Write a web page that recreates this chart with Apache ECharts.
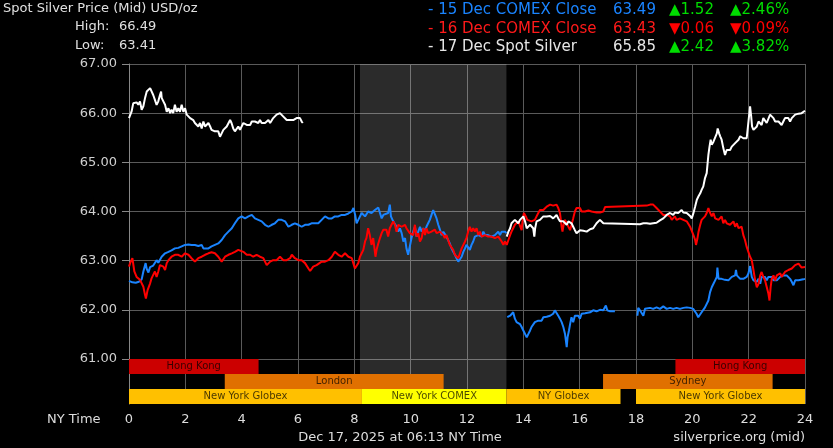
<!DOCTYPE html>
<html><head><meta charset="utf-8">
<script src="https://cdn.jsdelivr.net/npm/echarts@6/dist/echarts.min.js"></script>
<style>html,body{margin:0;padding:0;background:#000;}#c{width:833px;height:448px;}</style>
</head><body><div id="c"></div>
<script>
// ---- data ----
const blue15 = [
[0.00,62.59],[0.12,62.56],[0.24,62.55],[0.35,62.57],[0.45,62.62],[0.51,62.78],[0.59,62.95],[0.63,62.83],[0.69,62.76],[0.75,62.87],[0.86,62.90],[0.98,63.01],[1.04,62.96],[1.16,63.08],[1.28,63.15],[1.40,63.18],[1.51,63.21],[1.63,63.25],[1.75,63.26],[1.87,63.29],[1.99,63.32],[2.11,63.33],[2.22,63.32],[2.34,63.32],[2.46,63.30],[2.58,63.32],[2.64,63.25],[2.70,63.22],[2.82,63.25],[2.93,63.29],[3.05,63.32],[3.17,63.35],[3.29,63.42],[3.41,63.52],[3.53,63.59],[3.65,63.66],[3.76,63.76],[3.88,63.86],[4.00,63.90],[4.12,63.86],[4.24,63.90],[4.36,63.93],[4.47,63.86],[4.59,63.83],[4.71,63.80],[4.83,63.73],[4.95,63.69],[5.07,63.73],[5.18,63.76],[5.30,63.83],[5.42,63.83],[5.54,63.80],[5.66,63.69],[5.78,63.73],[5.89,63.76],[6.01,63.73],[6.13,63.69],[6.25,63.73],[6.37,63.73],[6.48,63.76],[6.60,63.76],[6.72,63.76],[6.84,63.83],[6.96,63.90],[7.08,63.86],[7.20,63.86],[7.31,63.90],[7.43,63.90],[7.55,63.93],[7.67,63.93],[7.79,63.96],[7.91,64.00],[7.97,64.07],[8.03,63.93],[8.08,63.76],[8.14,63.83],
[8.20,63.86],[8.26,63.97],[8.38,63.90],[8.49,64.00],[8.61,63.97],[8.73,64.03],[8.85,64.08],[8.91,63.97],[8.97,63.86],[9.03,63.93],[9.09,63.90],[9.20,63.97],[9.26,64.14],[9.30,63.90],[9.38,63.80],[9.44,63.83],[9.50,63.69],[9.56,63.59],[9.62,63.66],[9.68,63.56],[9.74,63.39],[9.80,63.46],[9.85,63.25],[9.91,63.12],[9.97,63.29],[10.03,63.46],[10.09,63.59],[10.15,63.69],[10.21,63.49],[10.27,63.59],[10.33,63.69],[10.39,63.59],[10.45,63.66],[10.51,63.59],[10.56,63.69],[10.62,63.76],[10.68,63.83],[10.74,63.93],[10.80,64.03],[10.86,64.00],[10.92,63.86],[10.98,63.73],[11.04,63.63],[11.10,63.52],[11.16,63.59],[11.21,63.56],[11.27,63.49],[11.33,63.42],[11.39,63.35],[11.45,63.25],[11.51,63.18],[11.57,63.12],[11.63,63.05],[11.69,62.98],[11.75,62.95],[11.81,63.08],[11.87,63.18],[11.93,63.25],[11.98,63.32],[12.04,63.29],[12.10,63.22],[12.16,63.32],[12.22,63.39],[12.28,63.49],[12.34,63.46],[12.40,63.52],[12.46,63.56],[12.52,63.49],[12.58,63.59],[12.64,63.52],[12.69,63.56],[12.75,63.52],[12.87,63.49],[12.99,63.52],[13.05,63.56],[13.11,63.59],[13.17,63.52],[13.23,63.59],[13.29,63.56],[13.35,63.59],[13.40,63.56],
[13.41,null],
[13.43,61.85],[13.53,61.88],[13.58,61.92],[13.64,61.95],[13.70,61.82],[13.76,61.75],[13.82,61.78],[13.88,61.71],[13.94,61.65],[14.00,61.58],[14.06,61.51],[14.12,61.44],[14.18,61.51],[14.24,61.58],[14.29,61.65],[14.35,61.68],[14.41,61.75],[14.47,61.71],[14.53,61.78],[14.59,61.82],[14.65,61.78],[14.71,61.85],[14.77,61.82],[14.83,61.86],[14.89,61.85],[14.95,61.88],[15.00,61.86],[15.06,61.92],[15.12,61.99],[15.18,61.95],[15.24,61.88],[15.30,61.82],[15.36,61.75],[15.42,61.65],[15.48,61.51],[15.54,61.24],[15.57,61.44],[15.62,61.58],[15.66,61.71],[15.71,61.85],[15.77,61.75],[15.83,61.88],[15.89,61.92],[15.95,61.88],[16.01,61.82],[16.07,61.92],[16.13,61.88],[16.19,61.93],[16.25,61.97],[16.37,61.95],[16.48,61.99],[16.60,61.97],[16.72,62.00],[16.84,61.99],[16.93,62.09],[16.98,61.99],[17.08,61.97],[17.25,61.97],
[17.26,null],
[18.05,61.88],[18.08,62.04],[18.14,61.99],[18.20,62.02],[18.26,61.88],[18.32,62.02],[18.38,62.05],[18.50,62.04],[18.61,62.02],[18.73,62.05],[18.85,62.02],[18.97,62.07],[19.03,62.09],[19.09,62.02],[19.21,62.04],[19.32,62.02],[19.44,62.04],[19.56,62.02],[19.68,62.04],[19.80,62.05],[19.92,62.04],[20.03,62.02],[20.09,61.99],[20.15,61.92],[20.21,61.85],[20.27,61.88],[20.33,61.95],[20.45,62.05],[20.57,62.19],[20.63,62.36],[20.69,62.46],[20.75,62.53],[20.81,62.60],[20.87,62.67],[20.89,62.86],[20.93,62.63],[20.99,62.60],[21.04,62.63],[21.10,62.60],[21.16,62.61],[21.22,62.63],[21.28,62.60],[21.34,62.63],[21.40,62.67],[21.46,62.63],[21.52,62.70],[21.55,62.81],[21.58,62.70],[21.64,62.67],[21.70,62.63],[21.75,62.67],[21.81,62.63],[21.87,62.60],[21.93,62.67],[21.99,62.74],[22.05,62.89],[22.11,62.67],[22.17,62.60],[22.23,62.63],[22.29,62.57],[22.35,62.63],[22.41,62.53],[22.46,62.67],[22.52,62.63],[22.58,62.67],[22.64,62.60],[22.70,62.67],[22.76,62.63],[22.82,62.67],[22.88,62.60],[22.94,62.63],[23.00,62.60],[23.06,62.63],[23.12,62.67],[23.17,62.63],[23.23,62.70],[23.29,62.67],[23.35,62.70],[23.41,62.67],[23.47,62.63],[23.53,62.57],[23.59,62.50],[23.65,62.60],[23.71,62.63],[23.77,62.60],[23.82,62.61],[23.94,62.62],[24.00,62.63]
];
const red16 = [
[0.00,62.88],[0.04,62.95],[0.12,63.05],[0.19,62.78],[0.27,62.67],[0.39,62.61],[0.51,62.47],[0.57,62.30],[0.60,62.23],[0.66,62.40],[0.75,62.54],[0.80,62.64],[0.86,62.71],[0.92,62.78],[0.98,62.67],[1.04,62.78],[1.10,62.91],[1.16,62.95],[1.22,62.88],[1.28,62.81],[1.34,62.95],[1.40,63.01],[1.51,63.08],[1.63,63.12],[1.75,63.12],[1.87,63.08],[1.99,63.15],[2.11,63.12],[2.22,63.05],[2.34,62.98],[2.46,63.05],[2.58,63.08],[2.70,63.12],[2.82,63.15],[2.93,63.17],[3.05,63.15],[3.17,63.08],[3.29,62.98],[3.41,63.08],[3.53,63.12],[3.65,63.15],[3.76,63.18],[3.88,63.22],[3.94,63.24],[4.06,63.18],[4.18,63.12],[4.30,63.12],[4.41,63.08],[4.53,63.12],[4.65,63.08],[4.77,63.05],[4.89,62.91],[5.01,62.98],[5.12,63.01],[5.24,63.01],[5.36,63.08],[5.48,63.01],[5.60,63.01],[5.72,63.05],[5.78,63.12],[5.89,63.05],[6.01,63.01],[6.13,63.01],[6.25,62.95],[6.37,62.84],[6.43,62.79],[6.54,62.88],[6.66,62.91],[6.84,62.98],[6.96,62.98],[7.08,63.01],[7.20,63.08],[7.31,63.18],[7.43,63.12],[7.55,63.08],[7.67,63.15],[7.79,63.08],[7.91,63.05],[8.02,62.84],[8.08,62.81],[8.14,62.95],
[8.20,63.08],[8.26,63.15],[8.32,63.22],[8.38,63.39],[8.43,63.46],[8.49,63.66],[8.52,63.69],[8.55,63.52],[8.61,63.32],[8.67,63.46],[8.73,63.18],[8.75,63.08],[8.79,63.22],[8.85,63.35],[8.91,63.46],[8.97,63.56],[9.03,63.63],[9.09,63.66],[9.14,63.63],[9.20,63.49],[9.26,63.66],[9.32,63.73],[9.38,63.80],[9.44,63.73],[9.50,63.59],[9.56,63.73],[9.62,63.76],[9.68,63.69],[9.74,63.69],[9.80,63.73],[9.85,63.66],[9.91,63.69],[9.97,63.56],[10.03,63.59],[10.09,63.52],[10.15,63.73],[10.21,63.49],[10.27,63.56],[10.33,63.39],[10.39,63.46],[10.45,63.66],[10.51,63.52],[10.56,63.66],[10.62,63.56],[10.68,63.52],[10.74,63.59],[10.80,63.56],[10.86,63.63],[10.92,63.56],[10.98,63.52],[11.04,63.59],[11.10,63.56],[11.16,63.52],[11.21,63.46],[11.27,63.52],[11.33,63.42],[11.39,63.32],[11.45,63.29],[11.51,63.22],[11.57,63.12],[11.63,63.08],[11.69,63.05],[11.75,63.15],[11.81,63.25],[11.87,63.32],[11.93,63.39],[11.98,63.46],[12.04,63.59],[12.10,63.69],[12.16,63.59],[12.22,63.66],[12.28,63.59],[12.34,63.66],[12.40,63.52],[12.46,63.59],[12.52,63.49],[12.58,63.52],[12.64,63.52],[12.75,63.49],[12.87,63.49],[12.99,63.46],[13.11,63.49],[13.23,63.39],[13.29,63.32],[13.35,63.39],[13.41,63.32],
[13.47,63.42],[13.53,63.52],[13.58,63.59],[13.64,63.66],[13.70,63.73],[13.76,63.76],[13.82,63.80],[13.88,63.76],[13.94,63.62],[13.97,63.80],[14.02,63.97],[14.06,64.00],[14.09,63.90],[14.14,63.83],[14.21,63.86],[14.29,63.80],[14.35,63.76],[14.41,63.83],[14.47,63.90],[14.53,63.97],[14.59,64.03],[14.65,64.07],[14.71,64.03],[14.77,64.07],[14.83,64.10],[14.89,64.12],[14.95,64.14],[15.00,64.16],[15.06,64.12],[15.12,64.10],[15.18,64.14],[15.24,64.07],[15.30,63.97],[15.36,63.69],[15.39,63.59],[15.44,63.76],[15.48,63.83],[15.54,63.80],[15.60,63.69],[15.66,63.62],[15.71,63.73],[15.77,63.86],[15.83,64.00],[15.89,64.07],[15.95,64.10],[16.01,64.07],[16.07,64.00],[16.13,64.03],[16.19,64.00],[16.25,63.97],[16.31,64.02],[16.37,63.98],[16.42,64.00],[16.48,63.97],[16.60,63.98],[16.72,63.98],[16.84,64.00],[16.90,64.09],[16.96,64.10],[18.38,64.12],[18.50,64.14],[18.55,64.15],[18.61,64.14],[18.67,64.10],[18.73,64.07],[18.79,64.03],[18.85,64.00],[18.91,63.97],[18.97,63.93],[19.03,63.90],[19.09,63.93],[19.15,63.97],[19.21,63.90],[19.27,63.83],[19.32,63.80],[19.38,63.90],[19.44,63.83],[19.56,63.86],[19.68,63.83],[19.80,63.80],[19.86,63.76],[19.92,63.69],
[19.98,63.69],[20.04,63.52],[20.10,63.42],[20.13,63.32],[20.18,63.45],[20.22,63.59],[20.28,63.73],[20.33,63.83],[20.39,63.86],[20.45,63.90],[20.51,63.97],[20.57,64.07],[20.61,64.00],[20.63,63.97],[20.69,63.90],[20.75,63.97],[20.81,63.86],[20.87,63.90],[20.93,63.83],[20.99,63.80],[21.04,63.90],[21.10,63.76],[21.16,63.83],[21.22,63.76],[21.28,63.80],[21.34,63.73],[21.40,63.76],[21.46,63.80],[21.52,63.69],[21.58,63.76],[21.64,63.66],[21.70,63.62],[21.75,63.69],[21.81,63.52],[21.87,63.42],[21.93,63.28],[21.99,63.18],[22.05,63.08],[22.11,63.01],[22.17,62.81],[22.23,62.60],[22.29,62.46],[22.35,62.53],[22.41,62.70],[22.46,62.77],[22.52,62.67],[22.58,62.60],[22.64,62.63],[22.70,62.33],[22.74,62.19],[22.78,62.46],[22.82,62.63],[22.88,62.70],[22.94,62.60],[23.00,62.70],[23.06,62.67],[23.12,62.74],[23.17,62.67],[23.23,62.70],[23.29,62.77],[23.35,62.74],[23.41,62.81],[23.47,62.77],[23.53,62.84],[23.59,62.87],[23.65,62.91],[23.71,62.87],[23.77,62.94],[23.82,62.91],[23.88,62.86],[23.94,62.84],[24.00,62.87]
];
const white17 = [
[0.00,65.90],[0.04,65.93],[0.09,66.03],[0.15,66.20],[0.21,66.17],[0.27,66.22],[0.33,66.17],[0.39,66.24],[0.45,66.07],[0.51,66.14],[0.57,66.31],[0.63,66.44],[0.69,66.41],[0.75,66.51],[0.80,66.48],[0.86,66.37],[0.92,66.27],[0.98,66.17],[1.04,66.24],[1.10,66.37],[1.14,66.44],[1.16,66.31],[1.22,66.24],[1.28,66.17],[1.34,66.03],[1.40,66.10],[1.46,66.00],[1.51,66.07],[1.57,66.00],[1.63,66.17],[1.69,66.03],[1.75,66.10],[1.81,66.03],[1.87,66.17],[1.93,66.03],[1.99,66.10],[2.05,65.97],[2.11,65.93],[2.17,65.90],[2.22,65.93],[2.28,65.86],[2.34,65.80],[2.40,65.83],[2.46,65.73],[2.52,65.80],[2.58,65.69],[2.64,65.83],[2.70,65.73],[2.76,65.69],[2.82,65.80],[2.88,65.73],[2.93,65.66],[2.99,65.69],[3.05,65.63],[3.11,65.59],[3.17,65.63],[3.23,65.52],[3.29,65.59],[3.35,65.66],[3.41,65.69],[3.47,65.73],[3.53,65.76],[3.59,65.86],[3.64,65.80],[3.70,65.69],[3.76,65.63],[3.82,65.66],[3.88,65.73],[3.94,65.66],[4.00,65.69],[4.06,65.80],[4.12,65.83],[4.18,65.76],[4.24,65.80],[4.30,65.76],[4.36,65.83],[4.41,65.80],[4.47,65.83],[4.53,65.80],[4.59,65.80],[4.65,65.86],[4.71,65.80],[4.77,65.83],[4.83,65.80],[4.89,65.83],[4.95,65.86],[5.01,65.80],[5.07,65.83],[5.12,65.90],[5.18,65.93],[5.24,65.97],[5.30,66.00],[5.36,66.00],[5.42,65.97],[5.48,65.93],[5.54,65.90],[5.60,65.86],[5.66,65.88],[5.72,65.86],[5.78,65.83],[5.83,65.86],[5.89,65.88],[5.95,65.90],[6.01,65.93],[6.07,65.90],[6.13,65.83],[6.17,65.80],
[6.18,null],
[13.41,63.49],[13.47,63.59],[13.53,63.66],[13.58,63.76],[13.64,63.80],[13.70,63.83],[13.76,63.80],[13.82,63.76],[13.88,63.83],[13.94,63.86],[14.00,63.90],[14.06,63.80],[14.12,63.66],[14.18,63.69],[14.24,63.73],[14.29,63.69],[14.35,63.66],[14.39,63.49],[14.42,63.66],[14.47,63.80],[14.53,63.76],[14.59,63.83],[14.65,63.86],[14.71,63.90],[14.77,63.91],[14.83,63.90],[14.89,63.93],[14.95,63.91],[15.00,63.90],[15.06,63.86],[15.12,63.90],[15.18,63.93],[15.24,63.86],[15.30,63.80],[15.36,63.83],[15.42,63.80],[15.48,63.76],[15.54,63.73],[15.60,63.80],[15.66,63.83],[15.71,63.76],[15.77,63.69],[15.83,63.62],[15.89,63.56],[15.95,63.59],[16.01,63.62],[16.07,63.59],[16.13,63.61],[16.19,63.62],[16.25,63.59],[16.31,63.62],[16.37,63.64],[16.42,63.62],[16.48,63.66],[16.54,63.69],[16.60,63.76],[16.66,63.80],[16.72,63.83],[16.78,63.80],[16.84,63.76],[16.90,63.74],[18.14,63.74],[18.20,63.77],[18.26,63.76],[18.32,63.80],[18.38,63.76],[18.44,63.77],[18.50,63.75],[18.55,63.77],[18.61,63.76],[18.67,63.80],[18.73,63.77],[18.79,63.80],[18.85,63.82],[18.91,63.83],[18.97,63.86],[19.03,63.88],[19.09,63.93],[19.15,63.95],[19.21,63.97],[19.27,64.00],[19.32,63.93],[19.38,63.98],[19.44,64.02],[19.50,63.97],[19.56,64.00],[19.62,64.03],[19.68,63.98],[19.74,63.95],[19.80,63.97],[19.86,63.93],[19.92,63.91],
[19.98,63.86],[20.04,63.97],[20.10,64.10],[20.16,64.24],[20.22,64.31],[20.28,64.37],[20.33,64.44],[20.39,64.51],[20.45,64.68],[20.51,64.78],[20.57,65.15],[20.61,65.32],[20.65,65.46],[20.69,65.36],[20.75,65.42],[20.81,65.46],[20.87,65.59],[20.90,65.69],[20.95,65.59],[20.99,65.53],[21.04,65.46],[21.10,65.29],[21.16,65.15],[21.22,65.25],[21.28,65.29],[21.34,65.25],[21.40,65.32],[21.46,65.36],[21.52,65.39],[21.58,65.42],[21.64,65.46],[21.70,65.53],[21.75,65.56],[21.81,65.49],[21.87,65.46],[21.93,65.49],[21.99,65.46],[22.05,66.14],[22.09,65.93],[22.12,65.73],[22.17,65.66],[22.23,65.63],[22.29,65.73],[22.35,65.83],[22.41,65.86],[22.46,65.76],[22.52,65.90],[22.58,65.86],[22.64,65.80],[22.70,65.83],[22.76,65.97],[22.82,66.00],[22.88,65.90],[22.94,65.83],[23.00,65.86],[23.06,65.83],[23.12,65.80],[23.17,65.76],[23.23,65.83],[23.29,65.90],[23.35,65.88],[23.41,65.90],[23.47,65.83],[23.53,65.90],[23.59,65.93],[23.65,65.97],[23.71,65.93],[23.77,65.99],[23.82,65.97],[23.88,66.00],[23.94,66.03],[24.00,66.05]
];
const comexShade = [[8.2, 13.4]];
const marketNames = ['Hong Kong','Hong Kong','London','Sydney','New York Globex','New York COMEX','NY Globex','New York Globex'];
const marketRow   = [0, 0, 1, 1, 2, 2, 2, 2];
const marketStart = [0, 19.4, 3.4, 16.83, 0, 8.27, 13.4, 18.0];
const marketEnd   = [4.6, 24, 11.17, 22.85, 8.27, 13.4, 17.45, 24];
const legendNames  = ['- 15 Dec COMEX Close', '- 16 Dec COMEX Close', '- 17 Dec Spot Silver'];
const legendPrices = [63.49, 63.43, 65.85];
const legendChange = [1.52, -0.06, 2.42];
const legendPct    = [2.46, -0.09, 3.82];
const statLabels = ['High:', 'Low:'];
const statValues = [66.49, 63.41];

// ---- styles ----
const FONT = '"DejaVu Sans"';
const seriesColors = ['#1a84ff', '#ff0000', '#ffffff'];
const legendColors = ['#1a84ff', '#ff1a1a', '#e6e6e6'];
const marketColors = {'Hong Kong':'#cc0000','London':'#e07000','Sydney':'#e07000','New York Globex':'#ffc000','NY Globex':'#ffc000','New York COMEX':'#ffff00'};
const gridColor = '#5a5a5a';
const upColor = '#00dd00', downColor = '#ff0000';

const chart = echarts.init(document.getElementById('c'), null, {renderer:'canvas'});

function shadeRender(params, api) {
  const a = api.coord([api.value(0), 0]);
  const b = api.coord([api.value(1), 0]);
  const cs = params.coordSys;
  return {type:'rect', shape:{x:a[0], y:cs.y, width:b[0]-a[0], height:cs.height},
          style:{fill:'rgba(255,255,255,0.17)'}};
}
function marketRender(params, api) {
  const i = params.dataIndex;
  const p1 = api.coord([api.value(0), api.value(2)]);
  const p2 = api.coord([api.value(1), api.value(2) + 1]);
  const name = marketNames[i];
  return {type:'rect', shape:{x:p1[0], y:p1[1], width:p2[0]-p1[0], height:p2[1]-p1[1]},
    style:{fill:marketColors[name]},
    textContent:{style:{text:name, fill:'rgba(0,0,0,0.72)', font:'10px ' + FONT}},
    textConfig:{position:'inside'}};
}

const graphics = [];
graphics.push({type:'text', x:3, y:9, style:{text:'Spot Silver Price (Mid) USD/oz', fill:'#e0e0e0', font:'13px ' + FONT, verticalAlign:'middle'}});
statLabels.forEach((l, i) => {
  const y = 27 + i * 18.5;
  graphics.push({type:'text', x:75, y:y, style:{text:l, fill:'#e0e0e0', font:'13px ' + FONT, verticalAlign:'middle'}});
  graphics.push({type:'text', x:119, y:y, style:{text:statValues[i].toFixed(2), fill:'#e0e0e0', font:'13px ' + FONT, verticalAlign:'middle'}});
});
legendNames.forEach((n, i) => {
  const y = 10 + i * 18.7;
  const f = '15px ' + FONT;
  graphics.push({type:'text', x:428, y:y, style:{text:n, fill:legendColors[i], font:f, verticalAlign:'middle'}});
  graphics.push({type:'text', x:613, y:y, style:{text:legendPrices[i].toFixed(2), fill:legendColors[i], font:f, verticalAlign:'middle'}});
  const up = legendChange[i] >= 0;
  const c = up ? upColor : downColor;
  const arrow = up ? '\u25B2' : '\u25BC';
  graphics.push({type:'text', x:669, y:y, style:{text:arrow + Math.abs(legendChange[i]).toFixed(2), fill:c, font:f, verticalAlign:'middle'}});
  graphics.push({type:'text', x:730, y:y, style:{text:arrow + Math.abs(legendPct[i]).toFixed(2) + '%', fill:c, font:f, verticalAlign:'middle'}});
});
graphics.push({type:'text', x:47, y:420, style:{text:'NY Time', fill:'#dddddd', font:'13px ' + FONT, verticalAlign:'middle'}});
graphics.push({type:'text', x:400, y:438, style:{text:'Dec 17, 2025 at 06:13 NY Time', fill:'#dddddd', font:'13px ' + FONT, align:'center', verticalAlign:'middle'}});
graphics.push({type:'text', x:805, y:438, style:{text:'silverprice.org (mid)', fill:'#dddddd', font:'13px ' + FONT, align:'right', verticalAlign:'middle'}});

const marketData = marketNames.map((n, i) => [marketStart[i], marketEnd[i], marketRow[i]]);

const option = {
  backgroundColor:'#000',
  animation:false,
  textStyle:{fontFamily:FONT},
  grid:[{left:129, right:28, top:64, height:295}, {left:129, right:28, top:359, height:45}],
  xAxis:[
    {gridIndex:0, type:'value', min:0, max:24, interval:2, axisLine:{show:false}, axisTick:{show:false}, axisLabel:{show:false}, splitLine:{show:true, lineStyle:{color:gridColor, width:1}}},
    {gridIndex:1, type:'value', min:0, max:24, interval:2, position:'bottom', axisLine:{show:false}, axisTick:{show:false},
     axisLabel:{show:true, color:'#dddddd', fontSize:13, fontFamily:FONT, margin:9}, splitLine:{show:true, lineStyle:{color:gridColor, width:1}}}
  ],
  yAxis:[
    {gridIndex:0, type:'value', min:61, max:67, interval:1, axisLine:{show:true, onZero:false, lineStyle:{color:'#888888'}}, axisTick:{show:true, length:7, lineStyle:{color:'#888888'}},
     axisLabel:{color:'#d0d0d0', fontSize:13, fontFamily:FONT, margin:12, formatter:v => v.toFixed(2)}, splitLine:{show:true, lineStyle:{color:gridColor, width:1}}},
    {gridIndex:1, type:'value', min:0, max:3, inverse:true, axisLine:{show:true, onZero:false, lineStyle:{color:'#888888'}}, axisTick:{show:false}, axisLabel:{show:false}, splitLine:{show:false}}
  ],
  graphic:graphics,
  series:[
    {type:'custom', xAxisIndex:0, yAxisIndex:0, z:1, silent:true, renderItem:shadeRender, data:comexShade, encode:{x:[0,1]}},
    {type:'custom', xAxisIndex:1, yAxisIndex:1, z:1, silent:true, renderItem:shadeRender, data:comexShade, encode:{x:[0,1]}},
    {type:'custom', xAxisIndex:1, yAxisIndex:1, z:3, silent:true, renderItem:marketRender, data:marketData, encode:{x:[0,1], y:2}},
    {type:'line', name:'15 Dec', xAxisIndex:0, yAxisIndex:0, z:4, data:blue15, showSymbol:false, symbol:'none', connectNulls:false, lineStyle:{color:seriesColors[0], width:2}, itemStyle:{color:seriesColors[0]}},
    {type:'line', name:'16 Dec', xAxisIndex:0, yAxisIndex:0, z:5, data:red16, showSymbol:false, symbol:'none', connectNulls:false, lineStyle:{color:seriesColors[1], width:2}, itemStyle:{color:seriesColors[1]}},
    {type:'line', name:'17 Dec', xAxisIndex:0, yAxisIndex:0, z:6, data:white17, showSymbol:false, symbol:'none', connectNulls:false, lineStyle:{color:seriesColors[2], width:2}, itemStyle:{color:seriesColors[2]}}
  ]
};
chart.setOption(option);
</script>
</body></html>
